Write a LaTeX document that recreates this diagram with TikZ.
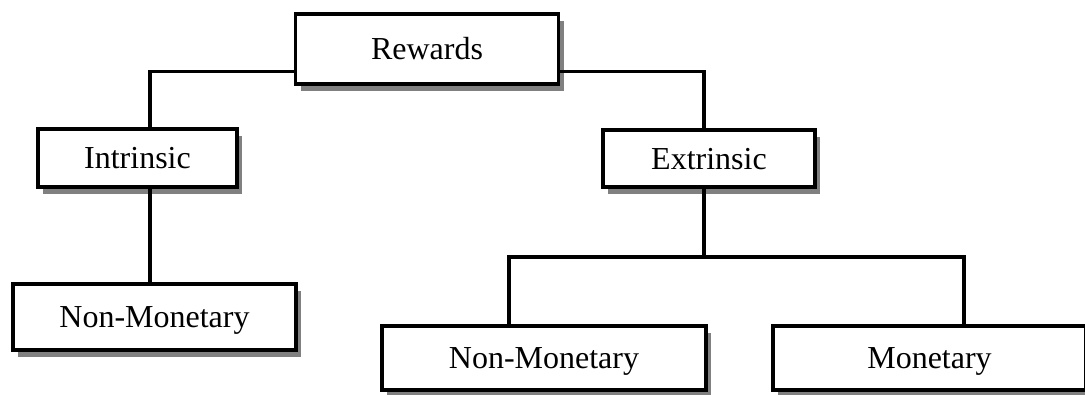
\documentclass[tikz,border=0pt]{standalone}
\usepackage{fontspec}
\setmainfont{Liberation Serif}
\usetikzlibrary{shadows}
\begin{document}
\begin{tikzpicture}[x=1pt,y=-1pt,
  box/.style={draw, line width=3.2pt, fill=white, inner sep=0pt,
    text height=21pt, text depth=0pt,
    font=\fontsize{32}{36}\selectfont,
    drop shadow={shadow xshift=5pt, shadow yshift=-7pt, fill=black!50, opacity=1}},
  link/.style={line width=3.2pt}]
\useasboundingbox (0,0) rectangle (1085,394);
\clip (0,0) rectangle (1085,394);
\fill[white] (0,0) rectangle (1085,394);

% tree of reward types
\node[box, minimum width=263pt, minimum height=70pt] (rew) at (427,49) {Rewards};
\node[box, minimum width=199pt, minimum height=58pt] (int) at (137.5,158) {Intrinsic};
\node[box, minimum width=212pt, minimum height=57pt] (ext) at (709,158.5) {Extrinsic};
\node[box, minimum width=283pt, minimum height=66pt] (lnm) at (154.5,317) {Non-Monetary};
\node[box, minimum width=324pt, minimum height=64pt] (bnm) at (544,358) {Non-Monetary};
\node[box, minimum width=313pt, minimum height=64pt] (mon) at (929.5,358) {Monetary};

% branch points
\coordinate (bl) at (509,257);
\coordinate (br) at (964,257);

% connectors
\draw[link] ([yshift=14pt]rew.south west) -| ([xshift=12.5pt]int.north);
\draw[link] ([yshift=14pt]rew.south east) -| ([xshift=-5pt]ext.north);
\draw[link] ([xshift=12.5pt]int.south) -- ([xshift=12.5pt]int.south |- lnm.north);
\draw[link] ([xshift=-5pt]ext.south) -- ([xshift=-5pt]ext.south |- bl);
\draw[link] (bnm.north -| bl) -- (bl) -- (br) -- (mon.north -| br);
\end{tikzpicture}
\end{document}
